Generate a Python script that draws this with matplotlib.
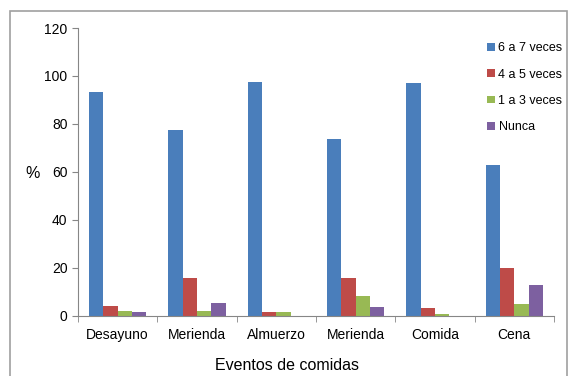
import matplotlib.pyplot as plt
from matplotlib.patches import Rectangle
import numpy as np

plt.rcParams['font.family'] = ['Liberation Sans', 'DejaVu Sans']

categories = ['Desayuno', 'Merienda', 'Almuerzo', 'Merienda', 'Comida', 'Cena']
series_names = ['6 a 7 veces', '4 a 5 veces', '1 a 3 veces', 'Nunca']
v_6a7 = [93.2, 77.5, 97.4, 73.5, 96.9, 62.8]
v_4a5 = [4.0, 15.5, 1.3, 15.5, 3.0, 20.0]
v_1a3 = [2.0, 2.0, 1.3, 8.0, 0.5, 4.6]
v_nunca = [1.3, 5.2, 0.0, 3.5, 0.0, 12.6]
colors = ['#4a7ebb', '#be4b48', '#98b954', '#7d60a0']

fig = plt.figure(figsize=(5.69, 3.76), dpi=100)
fig.patches.append(Rectangle((10 / 569, -0.01), 557 / 569, 1 - 11 / 376 + 0.01,
                             transform=fig.transFigure, fill=False,
                             edgecolor='#a0a0a0', lw=1.2))
ax = fig.add_axes([78 / 569, 1 - 315.5 / 376, (554 - 78) / 569, (315.5 - 28) / 376])

x = np.arange(len(categories))
w = 0.18
for i, (vals, name) in enumerate(zip([v_6a7, v_4a5, v_1a3, v_nunca], series_names)):
    ax.bar(x + (i - 1.5) * w, vals, w, color=colors[i], label=name)

ax.set_xlim(-0.5, len(categories) - 0.5)
ax.set_ylim(0, 120)
ax.set_yticks(range(0, 121, 20))
ax.set_xticks(x)
ax.set_xticklabels(categories, fontsize=10)
ax.set_xticks(np.arange(-0.5, len(categories)), minor=True)
ax.tick_params(axis='x', which='major', length=0, pad=9)
ax.tick_params(axis='x', which='minor', length=4, color='#868686')
ax.tick_params(axis='y', labelsize=10, length=4, color='#868686')
for s in ['top', 'right']:
    ax.spines[s].set_visible(False)
for s in ['left', 'bottom']:
    ax.spines[s].set_color('#868686')

fig.text(33 / 569, 1 - 173 / 376, '%', fontsize=11.5, ha='center', va='center')
fig.text(287 / 569, 1 - 366 / 376, 'Eventos de comidas', fontsize=11.5, ha='center', va='center')

ax.legend(loc='upper left', bbox_to_anchor=((476 - 78) / 476, 0.99), frameon=False,
          fontsize=9, handlelength=0.6, handleheight=0.6, handletextpad=0.3,
          labelspacing=1.15)

fig.savefig('out.png', dpi=100)
